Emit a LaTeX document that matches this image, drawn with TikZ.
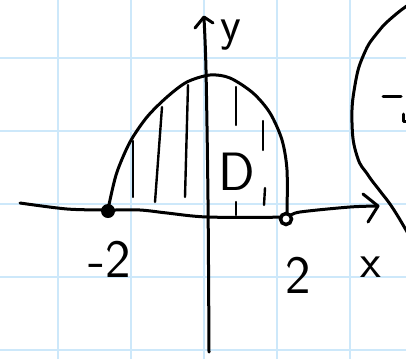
\documentclass[tikz,border=0pt]{standalone}
\definecolor{gridblue}{RGB}{205,232,250}
\begin{document}
\begin{tikzpicture}[x=1pt,y=-1pt,
  ink/.style={line width=3pt, line cap=round, line join=round},
  thinink/.style={line width=2.4pt, line cap=round, line join=round},
  gridline/.style={draw=gridblue, line width=1.8pt},
  lbl/.style={font=\sffamily\fontsize{54}{54}\selectfont, inner sep=0pt},
  slbl/.style={font=\sffamily\fontsize{48}{48}\selectfont, inner sep=0pt}]
\useasboundingbox (0,0) rectangle (406,359);
\fill[white] (0,0) rectangle (406,359);
% grid
\foreach \g in {58,131,204,277,350} {
  \draw[gridline] (\g,0) -- (\g,359);
  \draw[gridline] (0,\g) -- (406,\g);
}
% hatching
\draw[thinink] (133,141) -- (133,197);
\draw[thinink] (162,107) -- (155,202);
\draw[thinink] (188,85) -- (185,197);
\draw[thinink] (236,87) -- (236,125);
\draw[thinink] (236,202) -- (236,215);
\draw[thinink] (263,121) -- (263,150);
\draw[thinink] (265,188) -- (264,205);
% y axis
\draw[ink] plot[smooth] coordinates {(204,18) (206,70) (208,200) (209,352)};
\draw[ink] (195,28) -- (204,17) -- (213,23);
\coordinate (ytip) at (204,17);
% x axis
\draw[ink] plot[smooth] coordinates {(20,203) (67,209) (107,210) (140,210) (167,213) (207,217) (280,217) (300,212) (350,207) (378,206)};
\draw[ink] (363,194) -- (378,206) -- (368,222);
\coordinate (xtip) at (378,206);
% region boundary
\draw[ink] plot[smooth] coordinates {(108,211) (110,200) (117,172) (130,142) (147,117) (167,97) (187,82) (210,75) (230,78) (253,93) (270,113) (282,140) (287,170) (287,213)};
\fill (108,211) circle (7);
\draw[line width=3.5pt, fill=white] (286,219) circle (5.5);
% circle on the right
\begin{scope}
\clip (0,0) rectangle (406,359);
\draw[ink] plot[smooth, tension=0.8] coordinates {(414,1) (395,15) (378,32) (364,54) (355,85) (352,123) (357,156) (368,175) (380,191) (392,207) (406,230) (412,241)};
\draw[ink] (383,96) -- (401,96);
\draw[ink] (403,114) -- (403,121) -- (408,121);
\end{scope}
% labels
\node[slbl, anchor=base] (ylabel) at (231,40) {y};
\node[slbl, anchor=base] (xlabel) at (371,277) {x};
\node[lbl] (dlabel) at (237,172) {D};
\node[lbl, anchor=base] (mtwo) at (110,277) {-2};
\node[lbl, anchor=base] (two) at (298,293) {2};
\end{tikzpicture}
\end{document}
